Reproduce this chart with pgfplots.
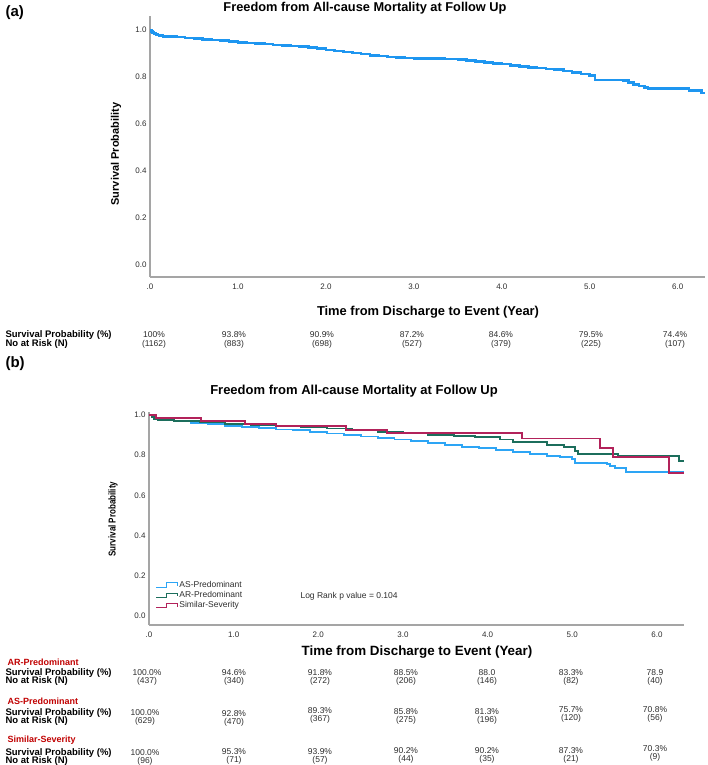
\documentclass[border=0pt]{standalone}
\usepackage{pgfplots}
\pgfplotsset{compat=1.18}
\usepackage{fontspec}
\setmainfont{Liberation Sans}
\definecolor{topblue}{RGB}{30,150,240}
\definecolor{asblue}{RGB}{45,165,245}
\definecolor{argreen}{RGB}{28,110,92}
\definecolor{ssmag}{RGB}{178,34,90}
\definecolor{hdrred}{RGB}{192,0,0}
\definecolor{axgray}{RGB}{165,165,165}
\definecolor{txt}{RGB}{45,45,45}
\newcommand{\fs}[1]{\fontsize{#1}{#1}\selectfont}
\pgfplotsset{kmstyle/.style={scale only axis, axis x line*=bottom, axis y line*=left,
  axis line style={-, draw=axgray, line width=1.3pt}, major tick length=0pt,
  xtick={0,1,2,3,4,5,6}, xticklabels={.0,1.0,2.0,3.0,4.0,5.0,6.0},
  ytick={0,0.2,0.4,0.6,0.8,1.0}, yticklabels={0.0,0.2,0.4,0.6,0.8,1.0},
  tick label style={font=\fs{8}, text=txt}, xticklabel style={yshift=-3pt}, xmin=0}}
\begin{document}
\begin{tikzpicture}
\useasboundingbox (0pt,0pt) rectangle (708pt,-765pt);
% ---------------- panel (a)
\begin{axis}[kmstyle, at={(150pt,-277pt)}, anchor=south west, width=555pt, height=261pt,
  xmax=6.31, ymin=-0.051, ymax=1.06]
\addplot[const plot, topblue, line width=2.6pt] coordinates {
(0,1.000)(0.01,0.997)(0.02,0.994)(0.03,0.991)(0.04,0.988)(0.05,0.985)(0.07,0.982)(0.09,0.979)
(0.11,0.976)(0.15,0.974)(0.22,0.972)(0.3,0.970)(0.4,0.967)(0.5,0.964)(0.6,0.961)(0.7,0.958)
(0.8,0.955)(0.9,0.951)(1.0,0.948)(1.1,0.945)(1.2,0.943)(1.3,0.940)(1.4,0.937)(1.5,0.935)
(1.6,0.932)(1.7,0.929)(1.8,0.925)(1.9,0.921)(2.0,0.916)(2.1,0.911)(2.2,0.906)(2.3,0.902)
(2.4,0.898)(2.5,0.893)(2.6,0.889)(2.7,0.886)(2.8,0.884)(2.9,0.882)(3.0,0.880)(3.1,0.879)
(3.2,0.878)(3.35,0.877)(3.5,0.875)(3.6,0.871)(3.7,0.867)(3.8,0.863)(3.9,0.859)(4.0,0.855)
(4.1,0.850)(4.2,0.846)(4.3,0.842)(4.4,0.839)(4.5,0.835)(4.6,0.831)(4.7,0.826)(4.8,0.820)
(4.9,0.813)(5.0,0.807)(5.06,0.787)(5.38,0.785)(5.44,0.778)(5.5,0.769)(5.56,0.762)(5.62,0.756)
(5.66,0.752)(6.13,0.742)(6.27,0.733)(6.31,0.733)};
\end{axis}
\node[font=\fs{15}\bfseries, anchor=west] at (2pt,-13pt) {(a)};
\node[font=\fs{12.8}\bfseries] at (365pt,-8pt) {Freedom from All-cause Mortality at Follow Up};
\node[font=\fs{12.9}\bfseries] at (428pt,-312pt) {Time from Discharge to Event (Year)};
\node[font=\fs{11}\bfseries, rotate=90] at (116pt,-154pt) {Survival Probability};
\node[anchor=west, font=\fs{9.5}\bfseries] at (2pt,-335pt) {Survival Probability (\%)};
\node[anchor=west, font=\fs{9.5}\bfseries] at (2pt,-344pt) {No at Risk (N)};
\foreach \x/\p/\n in {154/100\%/1162, 234/93.8\%/883, 322/90.9\%/698, 412/87.2\%/527, 501/84.6\%/379, 591/79.5\%/225, 675/74.4\%/107}{
  \node[font=\fs{8.5}, text=txt] at (\x pt,-335pt) {\p};
  \node[font=\fs{8.5}, text=txt] at (\x pt,-344pt) {(\n)};
}
% ---------------- panel (b)
\begin{axis}[kmstyle, at={(149pt,-625pt)}, anchor=south west, width=535pt, height=213pt,
  xmax=6.32, ymin=-0.045, ymax=1.015,
  legend style={draw=none, fill=none, font=\fs{8.5}, text=txt, at={(0.012,0.215)}, anchor=north west,
    row sep=-1.5pt, inner sep=0pt},
  legend cell align=left,
  legend image code/.code={\draw[#1, line width=0.8pt] (0pt,-2pt) -- (10pt,-2pt) -- (10pt,2.5pt) -- (21pt,2.5pt) -- (21pt,-1pt);}]
\addplot[const plot, asblue, line width=1.9pt] coordinates {
(0,1.0)(0.03,0.99)(0.06,0.98)(0.1,0.975)(0.3,0.968)(0.5,0.962)(0.7,0.955)(0.9,0.947)(1.1,0.939)
(1.3,0.934)(1.5,0.928)(1.7,0.924)(1.9,0.916)(2.1,0.908)(2.3,0.900)(2.5,0.893)(2.7,0.886)(2.9,0.878)
(3.1,0.870)(3.3,0.862)(3.5,0.852)(3.7,0.843)(3.9,0.835)(4.1,0.826)(4.3,0.817)(4.5,0.808)(4.7,0.798)
(4.85,0.790)(5.0,0.782)(5.03,0.762)(5.41,0.757)(5.45,0.746)(5.5,0.735)(5.64,0.718)(6.32,0.718)};
\addplot[const plot, argreen, line width=1.9pt] coordinates {
(0,1.0)(0.03,0.99)(0.06,0.98)(0.1,0.975)(0.3,0.970)(0.6,0.963)(0.9,0.957)(1.2,0.952)(1.5,0.946)
(1.8,0.940)(2.1,0.933)(2.4,0.925)(2.7,0.916)(3.0,0.908)(3.3,0.902)(3.6,0.896)(3.85,0.890)(4.15,0.878)
(4.3,0.867)(4.7,0.852)(4.9,0.840)(5.03,0.822)(5.07,0.808)(5.54,0.797)(6.26,0.773)(6.32,0.773)};
\addplot[const plot, ssmag, line width=1.9pt] coordinates {
(0,1.0)(0.08,0.984)(0.615,0.971)(1.13,0.957)(1.5,0.944)(2.33,0.927)(2.81,0.911)(4.41,0.883)
(5.33,0.837)(5.48,0.790)(6.14,0.712)(6.32,0.712)};
\legend{AS-Predominant, AR-Predominant, Similar-Severity}
\end{axis}
\node[font=\fs{8.5}, text=txt, anchor=west] at (297pt,-596pt) {Log Rank p value = 0.104};
\node[font=\fs{15}\bfseries, anchor=west] at (2pt,-364pt) {(b)};
\node[font=\fs{13}\bfseries] at (354pt,-391pt) {Freedom from All-cause Mortality at Follow Up};
\node[font=\fs{13.4}\bfseries] at (417pt,-652pt) {Time from Discharge to Event (Year)};
\node[font=\fs{10}\bfseries, rotate=90] at (113pt,-519pt) {\scalebox{0.8}[1]{Survival Probability}};
% tables
\foreach \g/\yy in {AR-Predominant/662, AS-Predominant/701, Similar-Severity/740}{
  \node[anchor=west, font=\fs{9}\bfseries, text=hdrred] at (4pt,-\yy pt) {\g};
}
\foreach \yy in {673, 713, 753}{
  \node[anchor=west, font=\fs{9.5}\bfseries] at (2pt,-\yy pt) {Survival Probability (\%)};
  \node[anchor=west, font=\fs{9.5}\bfseries] at (2pt,-\yy pt-8pt) {No at Risk (N)};
}
\foreach \x/\p/\n in {147/100.0\%/437, 234/94.6\%/340, 320/91.8\%/272, 406/88.5\%/206, 487/88.0/146, 571/83.3\%/82, 655/78.9/40}{
  \node[font=\fs{8.5}, text=txt] at (\x pt,-673pt) {\p};
  \node[font=\fs{8.5}, text=txt] at (\x pt,-681pt) {(\n)};
}
\foreach \x/\p/\n/\d in {145/100.0\%/629/0, 234/92.8\%/470/-1, 320/89.3\%/367/2, 406/85.8\%/275/1, 487/81.3\%/196/1, 571/75.7\%/120/3, 655/70.8\%/56/3}{
  \node[font=\fs{8.5}, text=txt] at (\x pt,-713pt+\d pt) {\p};
  \node[font=\fs{8.5}, text=txt] at (\x pt,-721pt+\d pt) {(\n)};
}
\foreach \x/\p/\n/\d in {145/100.0\%/96/0, 234/95.3\%/71/1, 320/93.9\%/57/1, 406/90.2\%/44/2, 487/90.2\%/35/2, 571/87.3\%/21/2, 655/70.3\%/9/4}{
  \node[font=\fs{8.5}, text=txt] at (\x pt,-753pt+\d pt) {\p};
  \node[font=\fs{8.5}, text=txt] at (\x pt,-761pt+\d pt) {(\n)};
}
\end{tikzpicture}
\end{document}
